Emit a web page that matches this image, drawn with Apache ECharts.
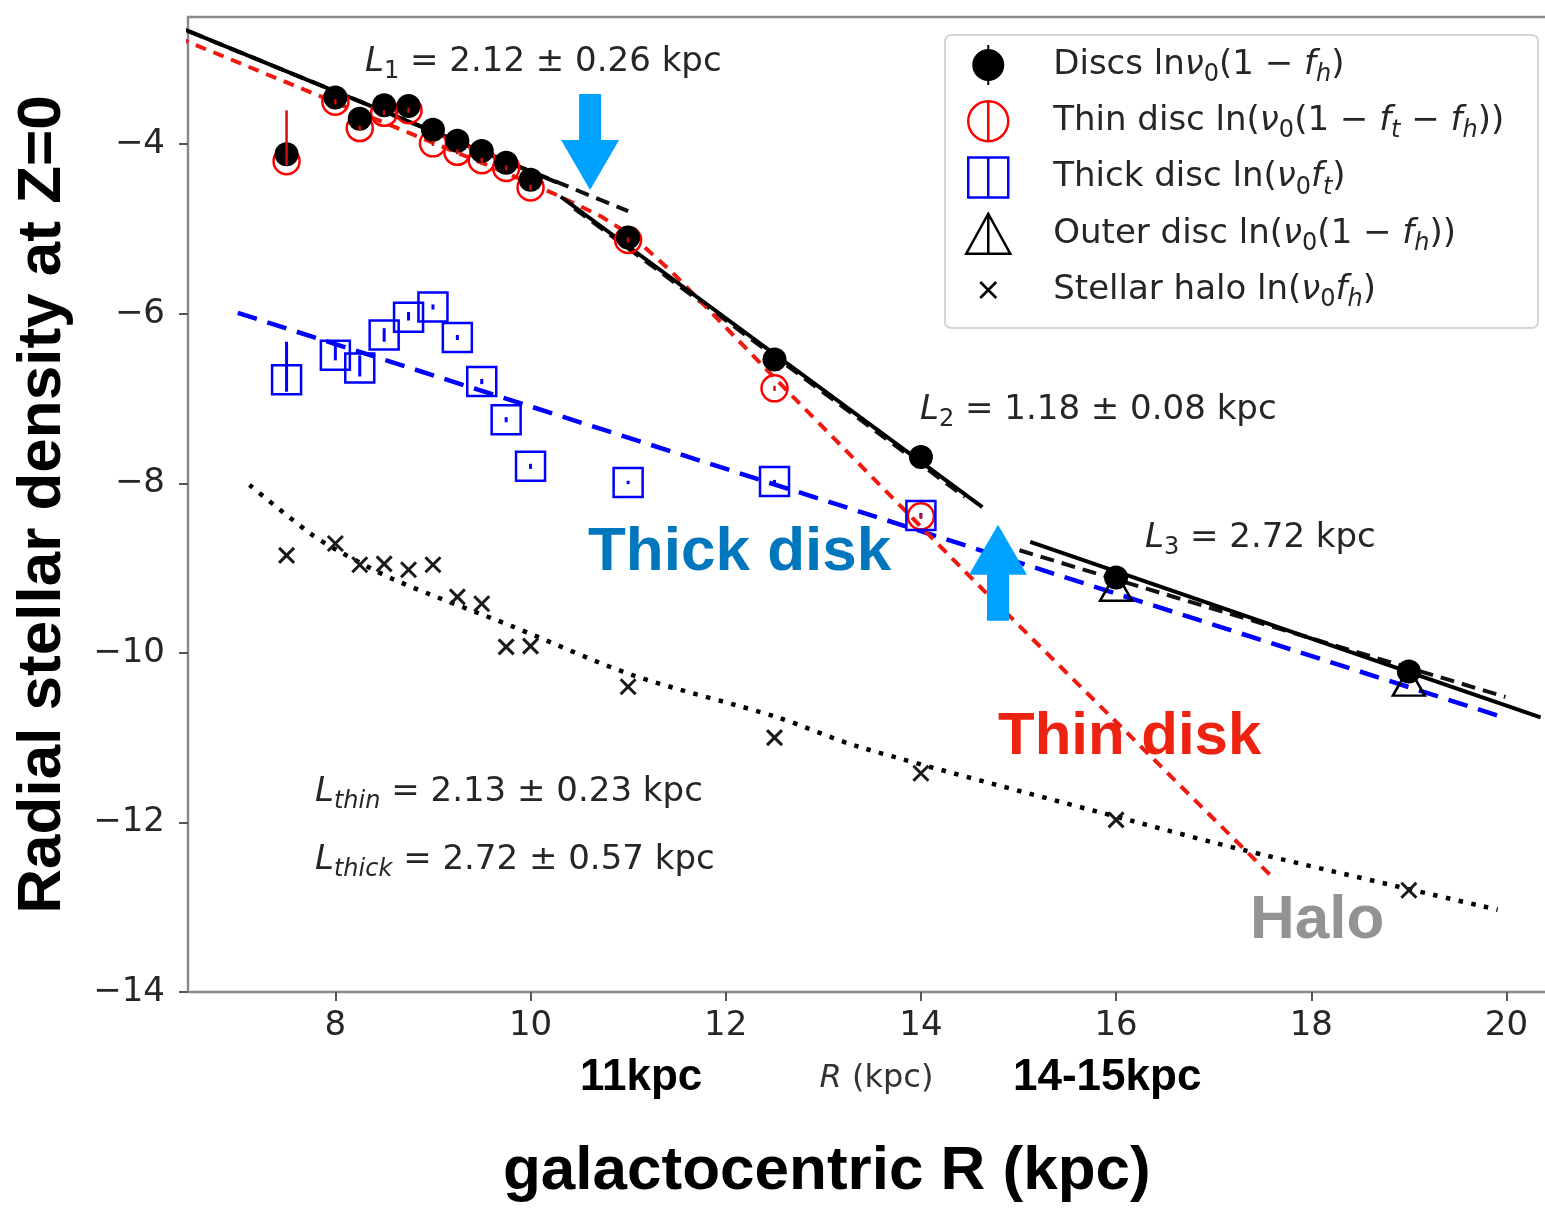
<!DOCTYPE html>
<html>
<head>
<meta charset="utf-8">
<script src="https://cdn.jsdelivr.net/npm/echarts@6/dist/echarts.min.js"></script>
<style>
html, body { margin: 0; padding: 0; background: #ffffff; }
#chart { width: 1545px; height: 1208px; }
</style>
</head>
<body>
<div id="chart"></div>
<script>
// ---- measured radial density profile, ln(nu) at Z = 0 ----
const discRadii = [7.5, 8.0, 8.25, 8.5, 8.75, 9.0, 9.25, 9.5, 9.75, 10.0, 11.0, 12.5, 14.0, 16.0, 19.0];
const discs = [-4.12, -3.45, -3.70, -3.54, -3.55, -3.83, -3.96, -4.08, -4.22, -4.42, -5.10, -6.54, -7.69, -9.11, -10.22];

const splitRadii = [7.5, 8.0, 8.25, 8.5, 8.75, 9.0, 9.25, 9.5, 9.75, 10.0, 11.0, 12.5, 14.0];
const thinDisc = [-4.20, -3.50, -3.81, -3.63, -3.60, -3.99, -4.09, -4.19, -4.28, -4.51, -5.13, -6.88, -8.39];
const thinErrLow = [0.05, 0.03, 0.03, 0.03, 0.03, 0.03, 0.03, 0.03, 0.03, 0.03, 0.03, 0.03, 0.03];
const thinErrHigh = [0.60, 0.03, 0.03, 0.03, 0.03, 0.03, 0.03, 0.03, 0.03, 0.03, 0.03, 0.03, 0.03];
const thickDisc = [-6.78, -6.49, -6.64, -6.25, -6.04, -5.92, -6.28, -6.80, -7.25, -7.80, -7.99, -7.98, -8.38];
const thickErrLow = [0.14, 0.06, 0.10, 0.08, 0.04, 0.03, 0.03, 0.03, 0.03, 0.03, 0.02, 0.02, 0.03];
const thickErrHigh = [0.45, 0.16, 0.15, 0.08, 0.06, 0.03, 0.03, 0.03, 0.03, 0.03, 0.02, 0.02, 0.03];

const outerRadii = [16.0, 19.0];
const outerDisc = [-9.22, -10.34];

const haloRadii = [7.5, 8.0, 8.25, 8.5, 8.75, 9.0, 9.25, 9.5, 9.75, 10.0, 11.0, 12.5, 14.0, 16.0, 19.0];
const halo = [-8.85, -8.71, -8.96, -8.95, -9.02, -8.96, -9.34, -9.42, -9.93, -9.92, -10.40, -11.00, -11.42, -11.97, -12.80];

// ---- fitted profiles [R, ln nu] ----
const fitL1 = [[5.93, -2.40], [10.27, -4.45]];
const fitL1Dashed = [[6.50, -2.67], [11.00, -4.79]];
const fitL2 = [[10.31, -4.62], [14.63, -8.28]];
const fitL2Dashed = [[10.45, -4.76], [14.45, -8.16]];
const fitL3 = [[15.12, -8.69], [20.35, -10.76]];
const fitL3Dashed = [[15.01, -8.79], [19.99, -10.52]];
const thickFit = [[7.00, -5.99], [19.94, -10.75]];
const thinFit = [[6.21, -2.66], [9.69, -4.31], [10.27, -4.60], [10.72, -4.85], [11.05, -5.09],
                 [11.46, -5.52], [12.69, -6.98], [14.64, -9.26], [17.58, -12.62]];
const haloFit = [[7.12, -8.02], [7.74, -8.59], [8.02, -8.79], [8.61, -9.14], [9.82, -9.69],
                 [11.04, -10.26], [12.53, -10.76], [13.37, -11.11], [16.19, -11.99],
                 [17.32, -12.33], [19.91, -13.03]];

// ---- axis ticks ----
const xTicks = [8, 10, 12, 14, 16, 18, 20];
const yTicks = [-14, -12, -10, -8, -6, -4];

const MPL = 'DejaVu Sans';
const BOLD = 'Liberation Sans';
const INK = '#262626';

const zip = (xs, ys) => xs.map((x, i) => [x, ys[i]]);
const minusFmt = v => (v < 0 ? '\u2212' + Math.abs(v) : String(v));

function fitLine(name, data, color, width, dash, smooth) {
  return {
    name: name, type: 'line', data: data, symbol: 'none', clip: false, silent: true,
    smooth: smooth || false, z: 2,
    lineStyle: { color: color, width: width, type: dash, cap: 'butt', opacity: 1 }
  };
}

function errorBars(xs, ys, lo, hi, color, width) {
  return {
    type: 'custom', silent: true, z: 4, clip: false,
    data: xs.map((x, i) => [x, ys[i] - lo[i], ys[i] + hi[i]]),
    encode: { x: 0, y: [1, 2] },
    renderItem: (params, api) => {
      const a = api.coord([api.value(0), api.value(1)]);
      const b = api.coord([api.value(0), api.value(2)]);
      return { type: 'line', shape: { x1: a[0], y1: a[1], x2: b[0], y2: b[1] },
               style: { stroke: color, lineWidth: width } };
    }
  };
}

// rich-text pieces imitating math typesetting
function mathRich(size, color) {
  const sub = Math.round(size * 0.7);
  const lh = size + 10;
  const base = { fontFamily: MPL, fontWeight: 'normal', color: color };
  return {
    n: Object.assign({}, base, { fontSize: size, lineHeight: lh }),
    i: Object.assign({}, base, { fontSize: size, lineHeight: lh, fontStyle: 'italic' }),
    s: Object.assign({}, base, { fontSize: sub, lineHeight: sub, verticalAlign: 'bottom' }),
    si: Object.assign({}, base, { fontSize: sub, lineHeight: sub, verticalAlign: 'bottom', fontStyle: 'italic' }),
    sp: { width: 30, lineHeight: lh }
  };
}

const legendText = {
  'Discs': '{sp|}{n|Discs ln}{i|\u03bd}{s|0}{n|(1 \u2212 }{i|f}{si|h}{n|)}',
  'Thin disc': '{sp|}{n|Thin disc ln(}{i|\u03bd}{s|0}{n|(1 \u2212 }{i|f}{si|t}{n| \u2212 }{i|f}{si|h}{n|))}',
  'Thick disc': '{sp|}{n|Thick disc ln(}{i|\u03bd}{s|0}{i|f}{si|t}{n|)}',
  'Outer disc': '{sp|}{n|Outer disc ln(}{i|\u03bd}{s|0}{n|(1 \u2212 }{i|f}{si|h}{n|))}',
  'Stellar halo': '{sp|}{n|Stellar halo ln(}{i|\u03bd}{s|0}{i|f}{si|h}{n|)}'
};

function note(text, left, centerY, size) {
  const lh = size + 10;
  return {
    text: text, left: left, top: centerY - lh / 2, padding: 0,
    textStyle: { fontFamily: MPL, fontWeight: 'normal', fontSize: size, lineHeight: lh, color: INK,
                 rich: mathRich(size, INK) }
  };
}
function tag(text, left, centerY, size, color) {
  const lh = size + 6;
  return {
    text: text, left: left, top: centerY - lh / 2, padding: 0,
    textStyle: { fontFamily: BOLD, fontWeight: 'bold', fontSize: size, lineHeight: lh, color: color }
  };
}

const chart = echarts.init(document.getElementById('chart'), null, { renderer: 'canvas' });

const option = {
  animation: false,
  backgroundColor: '#ffffff',
  grid: {
    left: 188, top: 17, width: 1377, height: 975,
    containLabel: false, outerBoundsMode: 'none',
    show: true, borderColor: '#8a8a8a', borderWidth: 2.5, backgroundColor: 'transparent'
  },
  xAxis: {
    type: 'value', min: 6.49, max: 20.6,
    name: '{i|R}{n| (kpc)}', nameLocation: 'middle', nameGap: 66,
    nameTextStyle: { rich: mathRich(32, '#333333') },
    axisLine: { show: false },
    splitLine: { show: false },
    axisTick: { show: true, customValues: xTicks, length: 9, lineStyle: { color: '#555555', width: 2 } },
    axisLabel: { customValues: xTicks, fontFamily: MPL, fontSize: 34, color: INK, margin: 17 }
  },
  yAxis: {
    type: 'value', min: -14, max: -2.5,
    name: 'Radial stellar density at Z=0', nameLocation: 'middle', nameRotate: 90, nameGap: 114,
    nameTextStyle: { fontFamily: BOLD, fontWeight: 'bold', fontSize: 62, color: '#000000' },
    axisLine: { show: false },
    splitLine: { show: false },
    axisTick: { show: true, customValues: yTicks, length: 9, lineStyle: { color: '#555555', width: 2 } },
    axisLabel: { customValues: yTicks, fontFamily: MPL, fontSize: 34, color: INK, margin: 23, formatter: minusFmt }
  },
  legend: {
    orient: 'vertical', left: 945, top: 35,
    padding: [9, 18, 15, 20], itemGap: 13, itemWidth: 60, itemHeight: 40,
    backgroundColor: 'transparent', borderWidth: 0, z: 5,
    selectedMode: false,
    data: [
      { name: 'Discs', icon: 'path://M10,0 L10,3 M10,17 L10,20 M10,2.5 A7.5,7.5 0 1,1 9.99,2.5 Z',
        itemStyle: { color: '#000000', borderColor: '#000000', borderWidth: 2, opacity: 1 } },
      { name: 'Thin disc', icon: 'path://M10,0 A10,10 0 1,1 9.99,0 Z M10,0 L10,20',
        itemStyle: { color: 'rgba(0,0,0,0)', borderColor: '#ff0000', borderWidth: 2.5, opacity: 1 } },
      { name: 'Thick disc', icon: 'path://M0,0 L20,0 L20,20 L0,20 Z M10,0 L10,20',
        itemStyle: { color: 'rgba(0,0,0,0)', borderColor: '#0000ff', borderWidth: 2.5, opacity: 1 } },
      { name: 'Outer disc', icon: 'path://M10,0 L21,20 L-1,20 Z M10,0 L10,20',
        itemStyle: { color: 'rgba(0,0,0,0)', borderColor: '#000000', borderWidth: 2.5, opacity: 1 } },
      { name: 'Stellar halo', icon: 'path://M6,6 L14,14 M14,6 L6,14 M0,0 M20,20',
        itemStyle: { color: 'rgba(0,0,0,0)', borderColor: '#000000', borderWidth: 2.5, opacity: 1 } }
    ],
    formatter: name => legendText[name],
    textStyle: { fontFamily: MPL, fontSize: 34, color: INK, rich: mathRich(34, INK) }
  },
  title: [
    note('{i|L}{s|1}{n| = 2.12 \u00b1 0.26 kpc}', 365, 62, 34),
    note('{i|L}{s|2}{n| = 1.18 \u00b1 0.08 kpc}', 920, 410, 34),
    note('{i|L}{s|3}{n| = 2.72 kpc}', 1145, 538, 34),
    note('{i|L}{si|thin}{n| = 2.13 \u00b1 0.23 kpc}', 315, 792, 34),
    note('{i|L}{si|thick}{n| = 2.72 \u00b1 0.57 kpc}', 315, 860, 34),
    tag('Thick disk', 588, 553, 62, '#0077bd'),
    tag('Thin disk', 998, 737, 60, '#ee2211'),
    tag('Halo', 1250, 921, 62, '#939393'),
    tag('11kpc', 580, 1078, 44, '#000000'),
    tag('14-15kpc', 1013, 1078, 44, '#000000'),
    tag('galactocentric R (kpc)', 503, 1172, 62, '#000000')
  ],
  series: [
    fitLine('fitL1Dashed', fitL1Dashed, '#111111', 4, [14, 8]),
    fitLine('fitL2Dashed', fitL2Dashed, '#111111', 4, [14, 8]),
    fitLine('fitL3Dashed', fitL3Dashed, '#111111', 4, [14, 8]),
    fitLine('thickFit', thickFit, '#0000ff', 4.5, [20, 11]),
    fitLine('thinFit', thinFit, '#ee1a10', 4, [11, 8]),
    fitLine('haloFit', haloFit, '#000000', 4.5, [4.5, 8.5], 0.3),
    fitLine('fitL1', fitL1, '#000000', 4, 'solid'),
    fitLine('fitL2', fitL2, '#000000', 4, 'solid'),
    fitLine('fitL3', fitL3, '#000000', 4, 'solid'),
    {
      name: 'Thin disc', type: 'scatter', data: zip(splitRadii, thinDisc), symbol: 'circle', symbolSize: 26,
      itemStyle: { color: 'rgba(0,0,0,0)', borderColor: '#ff0000', borderWidth: 2.5, opacity: 1 }, z: 3, silent: true
    },
    {
      name: 'Discs', type: 'scatter', data: zip(discRadii, discs), symbol: 'circle', symbolSize: 24,
      itemStyle: { color: '#000000', opacity: 1 }, z: 3, silent: true
    },
    {
      name: 'Thick disc', type: 'scatter', data: zip(splitRadii, thickDisc), symbol: 'rect', symbolSize: 29,
      itemStyle: { color: 'rgba(0,0,0,0)', borderColor: '#0000ff', borderWidth: 2.5, opacity: 1 }, z: 3, silent: true
    },
    {
      name: 'Outer disc', type: 'scatter', data: zip(outerRadii, outerDisc), symbol: 'triangle', symbolSize: [32, 28],
      itemStyle: { color: 'rgba(0,0,0,0)', borderColor: '#000000', borderWidth: 2.5, opacity: 1 }, z: 3, silent: true
    },
    {
      name: 'Stellar halo', type: 'scatter', data: zip(haloRadii, halo),
      symbol: 'path://M0,0 L10,10 M10,0 L0,10', symbolSize: 15,
      itemStyle: { color: 'rgba(0,0,0,0)', borderColor: '#1a1a1a', borderWidth: 3, opacity: 1 }, z: 3, silent: true
    },
    errorBars(splitRadii, thickDisc, thickErrLow, thickErrHigh, '#0000ff', 3),
    errorBars(splitRadii, thinDisc, thinErrLow, thinErrHigh, '#d01010', 2.5)
  ]
};

chart.setOption(option);

// blue arrows marking the two profile breaks (drawn from their tip positions)
const downTip = chart.convertToPixel({ gridIndex: 0 }, [10.61, -4.54]);
const upTip = chart.convertToPixel({ gridIndex: 0 }, [14.79, -8.49]);
function arrow(tip, dir) {
  const [x, y] = tip;
  const s = dir; // +1 pointing down, -1 pointing up
  return {
    type: 'polygon', z: 6, silent: true,
    shape: { points: [
      [x, y], [x - 29, y - s * 50], [x - 11, y - s * 50], [x - 11, y - s * 96],
      [x + 11, y - s * 96], [x + 11, y - s * 50], [x + 29, y - s * 50]
    ] },
    style: { fill: '#00a2ff' }
  };
}
chart.setOption({
  graphic: [
    { type: 'rect', z: 3, silent: true,
      shape: { x: 945, y: 35, width: 593, height: 293, r: 6 },
      style: { fill: '#ffffff', stroke: '#d6d6d6', lineWidth: 2 } },
    arrow(downTip, 1),
    arrow(upTip, -1)
  ]
});
</script>
</body>
</html>
